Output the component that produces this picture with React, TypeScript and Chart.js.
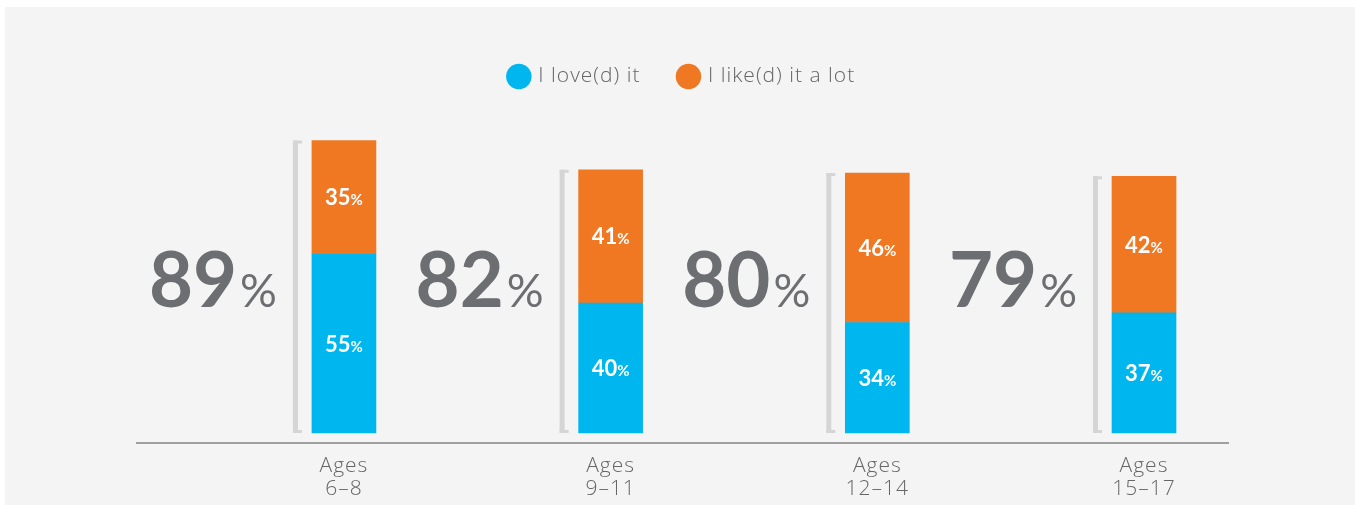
import React, { useEffect, useRef } from 'react';
import { Chart, registerables } from 'chart.js';

Chart.register(...registerables);

const categories = ['6–8', '9–11', '12–14', '15–17'];
const categoryPrefix = 'Ages';
const loveValues = [55, 40, 34, 37];
const likeValues = [35, 41, 46, 42];
const totals = [89, 82, 80, 79];
const seriesNames = ['I love(d) it', 'I like(d) it a lot'];

const BLUE = '#00b6ee';
const ORANGE = '#f07823';
const GRAY_TEXT = '#6d6e71';
const LIGHT_TEXT = '#666666';
const FONT = 'Lato, "Open Sans", sans-serif';
const LIGHT_FONT = '"Open Sans", Lato, sans-serif';

function drawSplit(
  ctx: CanvasRenderingContext2D,
  main: string,
  suffix: string,
  x: number,
  baseline: number,
  mainFont: string,
  sufFont: string,
  align: 'center' | 'right',
  gap: number
) {
  ctx.font = mainFont;
  const w1 = ctx.measureText(main).width;
  ctx.font = sufFont;
  const w2 = ctx.measureText(suffix).width;
  const total = w1 + w2 + gap;
  const start = align === 'center' ? x - total / 2 : x - total;
  ctx.textAlign = 'left';
  ctx.textBaseline = 'alphabetic';
  ctx.font = mainFont;
  ctx.fillText(main, start, baseline);
  ctx.font = sufFont;
  ctx.fillText(suffix, start + w1 + gap, baseline);
}

const setSpacing = (chart: any) => {
  (chart.ctx as any).letterSpacing = '1px';
};

const spacingPlugin = {
  id: 'spacing',
  beforeUpdate: setSpacing,
  beforeLayout: setSpacing,
  beforeDraw: setSpacing,
};

const overlayPlugin = {
  id: 'overlay',
  afterDatasetsDraw(chart: any) {
    const ctx: CanvasRenderingContext2D = chart.ctx;
    const yScale = chart.scales.y;
    const meta0 = chart.getDatasetMeta(0);
    const meta1 = chart.getDatasetMeta(1);
    ctx.save();
    (ctx as any).letterSpacing = '0px';
    [meta0, meta1].forEach((meta: any) => {
      meta.data.forEach((bar: any, i: number) => {
        const val = chart.data.datasets[meta.index].data[i].y;
        const cy = (bar.y + bar.base) / 2;
        ctx.fillStyle = '#ffffff';
        drawSplit(ctx, String(val), '%', bar.x, cy + 8, `bold 22px ${FONT}`, `bold 15px ${FONT}`, 'center', 0);
      });
    });
    totals.forEach((t, i) => {
      const b0 = meta0.data[i];
      const b1 = meta1.data[i];
      const top = b1.y;
      const bottom = b0.base;
      const left = b0.x - b0.width / 2;
      ctx.fillStyle = '#d5d5d5';
      ctx.fillRect(left - 19, top, 5, bottom - top);
      ctx.fillRect(left - 19, top, 9, 3);
      ctx.fillRect(left - 19, bottom - 3, 9, 3);
      ctx.fillStyle = GRAY_TEXT;
      const baseline = yScale.getPixelForValue(0) - 126;
      drawSplit(ctx, String(t), '%', left - 35, baseline, `bold 76px ${FONT}`, `46px ${FONT}`, 'right', 3);
    });
    ctx.restore();
  },
};

export default function App() {
  const canvasRef = useRef<HTMLCanvasElement | null>(null);

  useEffect(() => {
    if (!canvasRef.current) return;
    const chart = new Chart(canvasRef.current, {
      type: 'bar',
      data: {
        datasets: [
          {
            label: seriesNames[0],
            data: loveValues.map((v, i) => ({ x: i, y: v })),
            backgroundColor: BLUE,
            borderWidth: 0,
            barThickness: 64,
          },
          {
            label: seriesNames[1],
            data: likeValues.map((v, i) => ({ x: i, y: v })),
            backgroundColor: ORANGE,
            borderWidth: 0,
            barThickness: 64,
          },
        ],
      },
      options: {
        animation: false,
        responsive: false,
        maintainAspectRatio: false,
        layout: { padding: { left: 132, right: 127, top: 20, bottom: 0 } },
        plugins: {
          tooltip: { enabled: false },
          legend: {
            position: 'top',
            labels: {
              usePointStyle: true,
              pointStyle: 'circle',
              boxWidth: 18,
              boxHeight: 18,
              padding: 39,
              color: LIGHT_TEXT,
              font: { family: LIGHT_FONT, size: 21, weight: '300' as any },
            },
          },
        },
        scales: {
          x: {
            type: 'linear',
            stacked: true,
            offset: false,
            min: -0.776,
            max: 3.315,
            grid: { display: false, drawTicks: false, offset: false },
            border: { display: true, color: '#a0a0a0', width: 2 },
            afterBuildTicks: (scale: any) => {
              scale.ticks = categories.map((_, i) => ({ value: i }));
            },
            afterFit: (scale: any) => {
              scale.height = 62;
            },
            ticks: {
              padding: 11,
              color: LIGHT_TEXT,
              font: { family: LIGHT_FONT, size: 21, weight: '300' as any, lineHeight: 1.1 },
              autoSkip: false,
              maxRotation: 0,
              callback: (value: any) => [categoryPrefix, categories[Math.round(Number(value))]],
            },
          },
          y: {
            display: false,
            stacked: true,
            min: -3.08,
            max: 103.4,
          },
        },
      },
      plugins: [spacingPlugin, overlayPlugin],
    } as any);
    return () => chart.destroy();
  }, []);

  return (
    <div
      style={{
        position: 'absolute',
        left: 5,
        top: 7,
        width: 1350,
        height: 498,
        background: '#f4f4f4',
      }}
    >
      <canvas ref={canvasRef} width={1350} height={498} style={{ display: 'block', width: 1350, height: 498 }} />
    </div>
  );
}
